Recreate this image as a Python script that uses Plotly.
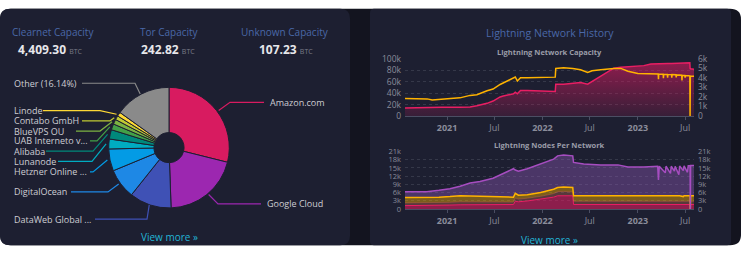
import math
import plotly.graph_objects as go

W, H = 752, 256

# ---------------- data ----------------
stat_titles = ["Clearnet Capacity", "Tor Capacity", "Unknown Capacity"]
stat_values = ["4,409.30", "242.82", "107.23"]
stat_unit = "BTC"

providers = ["Amazon.com", "Google Cloud", "DataWeb Global ...", "DigitalOcean",
             "Hetzner Online ...", "Lunanode", "Alibaba", "UAB Interneto v...",
             "BlueVPS OU", "Contabo GmbH", "Linode", "Other (16.14%)"]
provider_share = [28.9, 20.55, 11.25, 8.05, 5.9, 2.65, 2.5, 1.6, 1.3, 1.1, 1.1, 15.1]

cap_dates = ["2020-07-24", "2020-09-10", "2020-10-17", "2020-11-05", "2020-12-10",
             "2021-02-19", "2021-03-30", "2021-04-25", "2021-06-03", "2021-06-26",
             "2021-07-23", "2021-08-04", "2021-08-19", "2021-09-12", "2021-09-19",
             "2021-09-27", "2021-10-09", "2021-11-04", "2022-02-19", "2022-02-21",
             "2022-03-23", "2022-04-27", "2022-05-27", "2022-06-23", "2022-07-10",
             "2022-08-12", "2022-10-01", "2022-10-28", "2022-11-24", "2023-01-01",
             "2023-01-24", "2023-02-20", "2023-03-18", "2023-03-20", "2023-03-21",
             "2023-03-22", "2023-04-08", "2023-04-09", "2023-04-10", "2023-04-24",
             "2023-04-25", "2023-04-26", "2023-05-10", "2023-05-11", "2023-05-12",
             "2023-05-27", "2023-05-28", "2023-05-29", "2023-06-18", "2023-06-19",
             "2023-06-20", "2023-06-30", "2023-07-01", "2023-07-02", "2023-07-13",
             "2023-07-19", "2023-07-20", "2023-07-21", "2023-08-04"]
cap_btc = [830, 880, 900, 910, 920,
           930, 960, 1070, 1330, 1570,
           2000, 2100, 2170, 2330, 2500,
           2330, 2670, 2670, 2570, 3330,
           3330, 3400, 3500, 3330, 3600,
           4170, 5000, 5100, 5150, 5200,
           5270, 5430, 5480, 5490, 5490,
           5490, 5500, 5500, 5500, 5500,
           5500, 5500, 5500, 5500, 5500,
           5510, 5510, 5510, 5520, 5520,
           5520, 5530, 5530, 5530, 5570,
           5560, 5000, 4950, 4900]
cap_channels = [30500, 30500, 29900, 27800, 29000,
                31700, 36000, 37000, 44000, 47000,
                55000, 58000, 61500, 66700, 68000,
                61000, 66700, 66800, 67800, 83000,
                84000, 83000, 80500, 76000, 79000,
                80500, 83000, 83000, 78000, 74000,
                74000, 74000, 73500, 73400, 64000,
                73300, 73000, 66000, 72900, 72600,
                67000, 72500, 72200, 67000, 72100,
                71800, 67500, 71700, 71200, 62000,
                71100, 70800, 67000, 70700, 70300,
                70000, 0, 69500, 69500]

node_dates = ["2020-07-24", "2020-10-15", "2020-12-01", "2021-01-12", "2021-02-20",
              "2021-03-30", "2021-05-07", "2021-06-26", "2021-08-04", "2021-09-12",
              "2021-09-19", "2021-10-01", "2021-11-04", "2021-12-25", "2022-02-13",
              "2022-02-28", "2022-03-23", "2022-04-27", "2022-04-30", "2022-06-08",
              "2022-08-12", "2022-10-17", "2022-11-24", "2023-01-24", "2023-03-18",
              "2023-03-21", "2023-03-24", "2023-04-16", "2023-04-19", "2023-05-06",
              "2023-05-09", "2023-05-21", "2023-05-24", "2023-06-07", "2023-06-10",
              "2023-06-24", "2023-06-27", "2023-07-10", "2023-07-13", "2023-07-20",
              "2023-07-21", "2023-07-22", "2023-08-04"]
nodes_darknet = [1200, 1200, 1300, 1400, 1500, 1500, 1500, 1500, 1500, 1600,
                 2800, 2600, 2900, 3500, 4300, 4800, 4900, 4800, 1600, 1600,
                 1600, 1600, 1600, 1600, 1600, 1600, 1600, 1600, 1600, 1600,
                 1600, 1600, 1600, 1600, 1600, 1600, 1600, 1600, 1600, 1600,
                 0, 1600, 1600]
nodes_both = [1000, 1000, 1000, 1000, 1100, 1100, 1100, 1000, 1000, 900,
              1200, 1000, 1000, 1100, 1300, 1500, 1500, 1400, 1200, 1200,
              1200, 1200, 1200, 1200, 1200, 1200, 1200, 1200, 1200, 1200,
              1200, 1200, 1200, 1200, 1200, 1200, 1200, 1200, 1200, 1200,
              0, 1200, 1200]
nodes_clearnet = [2000, 1900, 2000, 2100, 2200, 2100, 2000, 2000, 1900, 1800,
                  1700, 1400, 1300, 1400, 1600, 1500, 1600, 1600, 2000, 2000,
                  2000, 2000, 2000, 2000, 2000, 1800, 2000, 1800, 2000, 2000,
                  2000, 2000, 2000, 2000, 2000, 1700, 2000, 2000, 2000, 2000,
                  0, 2000, 2000]
nodes_tor = [2100, 2200, 2500, 2850, 3500, 4750, 5400, 6700, 8550, 10400,
             8500, 8800, 9500, 10450, 11000, 11600, 11700, 11600, 12200, 11650,
             11300, 11300, 10500, 10500, 10800, 6000, 10800, 8600, 10800, 8200,
             10800, 9000, 10800, 7700, 10900, 9500, 10900, 8600, 11000, 11000,
             0, 11100, 11100]

x_tick_vals = ["2021-01-01", "2021-07-01", "2022-01-01", "2022-07-01", "2023-01-01", "2023-07-01"]
x_tick_text = ["<b>2021</b>", "Jul", "<b>2022</b>", "Jul", "<b>2023</b>", "Jul"]
cap_ticks_left = [0, 20000, 40000, 60000, 80000, 100000]
cap_ticks_right = [0, 1000, 2000, 3000, 4000, 5000, 6000]
node_ticks = [0, 3000, 6000, 9000, 12000, 15000, 18000, 21000]

# ---------------- style ----------------
provider_colors = ["#d81b60", "#9c27b0", "#3f51b5", "#1e88e5", "#039be5", "#00acc1",
                   "#00897b", "#43a047", "#7cb342", "#c0ca33", "#fdd835", "#8a8a8a"]
FONT = "Open Sans"
CARD = "#1d1f31"
FRAME = "#13141f"
TITLE_BLUE = "#4a68a8"
TICK = "#8a8c9a"
GRID = "#353849"


def X(px):
    return px / W


def Y(py):
    return 1 - py / H


def rrect(x0, y0, x1, y1, r):
    return (f"M {X(x0 + r)} {Y(y0)} L {X(x1 - r)} {Y(y0)} Q {X(x1)} {Y(y0)} {X(x1)} {Y(y0 + r)} "
            f"L {X(x1)} {Y(y1 - r)} Q {X(x1)} {Y(y1)} {X(x1 - r)} {Y(y1)} "
            f"L {X(x0 + r)} {Y(y1)} Q {X(x0)} {Y(y1)} {X(x0)} {Y(y1 - r)} "
            f"L {X(x0)} {Y(y0 + r)} Q {X(x0)} {Y(y0)} {X(x0 + r)} {Y(y0)} Z")


shapes = [
    dict(type="path", path=rrect(0, 3, 741, 250, 11), xref="paper", yref="paper",
         fillcolor=FRAME, line_width=0, layer="below"),
    dict(type="path", path=rrect(0, 3, 350, 250, 10), xref="paper", yref="paper",
         fillcolor=CARD, line_width=0, layer="below"),
    dict(type="path", path=rrect(370, 3, 731, 250, 4), xref="paper", yref="paper",
         fillcolor=CARD, line_width=0, layer="below"),
]

annotations = []

# stats header
stat_cx = [53, 169, 285]
val_cx = [51, 168, 286]
for t, v, cx, vx in zip(stat_titles, stat_values, stat_cx, val_cx):
    annotations.append(dict(x=X(cx), y=Y(27), xref="paper", yref="paper", text=t,
                            showarrow=False, xanchor="center", yanchor="middle",
                            font=dict(family=FONT, size=10, color=TITLE_BLUE)))
    annotations.append(dict(x=X(vx), y=Y(45), xref="paper", yref="paper",
                            text=f"<b>{v}</b> <span style='font-size:7px;color:#7a7c88'>{stat_unit}</span>",
                            showarrow=False, xanchor="center", yanchor="middle",
                            font=dict(family=FONT, size=12, color="#e6e6ea")))

# pie geometry (pixel box of pie domain)
PIE_BOX = (106, 85, 232, 211)
CX = (PIE_BOX[0] + PIE_BOX[2]) / 2
CY = (PIE_BOX[1] + PIE_BOX[3]) / 2
R = (PIE_BOX[2] - PIE_BOX[0]) / 2

label_y = [100.7, 206.7, 222.7, 194.3, 173.3, 162.3, 151.7, 141, 130.7, 120, 109.3, 80.7]
label_x = [268, 265, 12, 12, 12, 12, 12, 12, 12, 12, 12, 12]
line_end = [264, 261, 95, 71, 90, 58, 46, 90, 76, 82, 43, 82]
elbow_x = [230, 218, 147, 108, 93, 92, 93, 97, 100, 110, 100, 135]

total = sum(provider_share)
cum = 0
for i, v in enumerate(provider_share):
    mid = math.radians((cum + v / 2) / total * 360)
    cum += v
    ex = CX + R * math.sin(mid)
    ey = CY - R * math.cos(mid)
    path = (f"M {X(ex)} {Y(ey)} L {X(elbow_x[i])} {Y(label_y[i])} "
            f"L {X(line_end[i])} {Y(label_y[i])}")
    shapes.append(dict(type="path", path=path, xref="paper", yref="paper",
                       line=dict(color=provider_colors[i], width=1.2), layer="above"))
    annotations.append(dict(x=X(label_x[i]), y=Y(label_y[i]), xref="paper", yref="paper",
                            text=providers[i], showarrow=False, xanchor="left", yanchor="middle",
                            font=dict(family=FONT, size=9, color="#cdcdd3")))

# right card texts
annotations += [
    dict(x=X(550), y=Y(28), xref="paper", yref="paper", text="Lightning Network History",
         showarrow=False, xanchor="center", yanchor="middle",
         font=dict(family=FONT, size=10.5, color=TITLE_BLUE)),
    dict(x=X(549), y=Y(48), xref="paper", yref="paper", text="<b>Lightning Network Capacity</b>",
         showarrow=False, xanchor="center", yanchor="middle",
         font=dict(family=FONT, size=7.5, color="#9a9ca8")),
    dict(x=X(549), y=Y(145), xref="paper", yref="paper", text="<b>Lightning Nodes Per Network</b>",
         showarrow=False, xanchor="center", yanchor="middle",
         font=dict(family=FONT, size=7.5, color="#9a9ca8")),
    dict(x=X(169), y=Y(241), xref="paper", yref="paper", text="View more »",
         showarrow=False, xanchor="center", yanchor="middle",
         font=dict(family=FONT, size=10, color="#22b5d6")),
    dict(x=X(549), y=Y(244), xref="paper", yref="paper", text="View more »",
         showarrow=False, xanchor="center", yanchor="middle",
         font=dict(family=FONT, size=10, color="#22b5d6")),
]

fig = go.Figure()

fig.add_trace(go.Pie(labels=providers, values=provider_share, hole=0.25, sort=False,
                     direction="clockwise", rotation=0, textinfo="none",
                     marker=dict(colors=provider_colors, line=dict(color=CARD, width=1)),
                     domain=dict(x=[X(PIE_BOX[0]), X(PIE_BOX[2])], y=[Y(PIE_BOX[3]), Y(PIE_BOX[1])]),
                     showlegend=False, hoverinfo="label+percent"))

fig.add_trace(go.Scatter(x=cap_dates, y=cap_btc, xaxis="x", yaxis="y", mode="lines",
                         line=dict(color="#e91e63", width=1.5), fill="tozeroy",
                         fillgradient=dict(type="vertical", start=0, stop=5600,
                                           colorscale=[[0, "rgba(216,27,96,0.12)"],
                                                       [1, "rgba(216,27,96,0.6)"]]),
                         showlegend=False))
fig.add_trace(go.Scatter(x=cap_dates, y=cap_channels, xaxis="x", yaxis="y2", mode="lines",
                         line=dict(color="#ffb300", width=1.5), showlegend=False))

node_layers = [
    (nodes_darknet, "#e91e63", "rgba(233,30,99,0.55)", 1),
    (nodes_both, "rgba(210,110,80,0.5)", "rgba(200,105,80,0.35)", 0.8),
    (nodes_clearnet, "#ffb300", "rgba(255,179,0,0.42)", 1.5),
    (nodes_tor, "#a64dc0", "rgba(145,90,185,0.4)", 1.5),
]
for vals, lc, fc, lw in node_layers:
    fig.add_trace(go.Scatter(x=node_dates, y=vals, xaxis="x2", yaxis="y3", mode="lines",
                             stackgroup="nodes", line=dict(color=lc, width=lw),
                             fillcolor=fc, showlegend=False))

# invisible companion trace so the right-hand node axis is drawn
node_total = [a + b + c + d for a, b, c, d in zip(nodes_darknet, nodes_both, nodes_clearnet, nodes_tor)]
fig.add_trace(go.Scatter(x=node_dates, y=node_total, xaxis="x2", yaxis="y4", mode="lines",
                         line=dict(color="rgba(0,0,0,0)", width=0), hoverinfo="skip",
                         showlegend=False))

xr = ["2020-07-24", "2023-08-04"]
xaxis_common = dict(type="date", range=xr, tickvals=x_tick_vals, ticktext=x_tick_text,
                    showline=True, linecolor="#4b4e63", linewidth=1, ticks="outside", ticklen=3,
                    tickcolor="#4b4e63", tickfont=dict(family=FONT, size=9, color=TICK),
                    showgrid=False, zeroline=False, fixedrange=True)
yfont = dict(family=FONT, size=8.5, color=TICK)
yfont_small = dict(family=FONT, size=7.5, color=TICK)

fig.update_layout(
    width=W, height=H, autosize=False,
    margin=dict(l=0, r=0, t=0, b=0, pad=0),
    paper_bgcolor="white", plot_bgcolor="rgba(0,0,0,0)",
    font=dict(family=FONT),
    showlegend=False,
    shapes=shapes, annotations=annotations,
    xaxis=dict(domain=[X(405), X(694)], anchor="y", **xaxis_common),
    yaxis=dict(domain=[Y(115), Y(55)], anchor="x", side="right", range=[0, 6001],
               tickvals=cap_ticks_right, tickformat="~s",
               showgrid=False, zeroline=False, tickfont=yfont, ticklabelstandoff=3),
    yaxis2=dict(overlaying="y", anchor="x", side="left", range=[0, 100010],
                tickvals=cap_ticks_left, tickformat="~s",
                showgrid=True, gridcolor=GRID, griddash="3px,3px", gridwidth=1,
                zeroline=False, tickfont=yfont, ticklabelstandoff=3),
    xaxis2=dict(domain=[X(405), X(694)], anchor="y3", **xaxis_common),
    yaxis3=dict(domain=[Y(212), Y(152)], anchor="x2", side="left", range=[0, 21010],
                tickvals=node_ticks, tickformat="~s",
                showgrid=True, gridcolor=GRID, griddash="3px,3px", gridwidth=1,
                zeroline=False, tickfont=yfont_small, ticklabelstandoff=3),
    yaxis4=dict(overlaying="y3", anchor="x2", side="right", range=[0, 21010],
                tickvals=node_ticks, tickformat="~s",
                showgrid=False, zeroline=False, tickfont=yfont_small, ticklabelstandoff=3),
)

fig.write_html("out.html", config={"displayModeBar": False})
